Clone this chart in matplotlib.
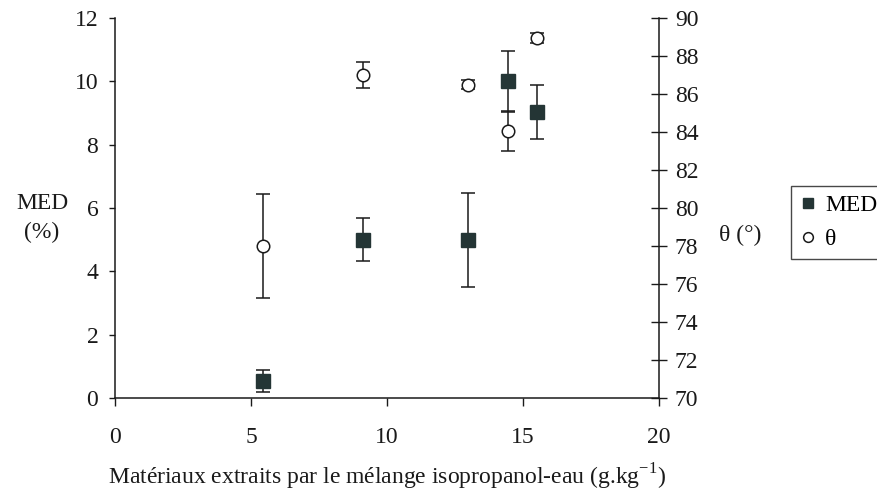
import matplotlib
matplotlib.use("Agg")
import matplotlib.pyplot as plt
from matplotlib.lines import Line2D

plt.rcParams['font.family'] = ['Liberation Serif', 'DejaVu Serif']

# Data
x_vals = [5.44, 9.12, 12.98, 14.45, 15.51]
med_vals = [0.55, 5.0, 5.0, 10.0, 9.03]
med_err = [0.35, 0.68, 1.48, 0.97, 0.84]
theta_vals = [78.0, 87.0, 86.5, 84.05, 88.95]
theta_err = [2.76, 0.7, 0.25, 1.03, 0.25]

x_ticks = [0, 5, 10, 15, 20]
med_ticks = [0, 2, 4, 6, 8, 10, 12]
theta_ticks = list(range(70, 91, 2))

FS = 17
W, H = 878, 496
fig = plt.figure(figsize=(W / 100, H / 100), dpi=100)
ax = fig.add_axes([115 / W, (H - 398) / H, 544 / W, 380 / H])
ax2 = ax.twinx()

ink = '#1a1a1a'
sq_col = '#243535'

ax.errorbar(x_vals, med_vals, yerr=med_err, fmt='s', ms=9.5, mfc=sq_col, mec=sq_col,
            ecolor=ink, elinewidth=1.1, capsize=4.7, capthick=1.1, zorder=3)
ax2.errorbar(x_vals, theta_vals, yerr=theta_err, fmt='o', ms=9, mfc='white', mec=ink,
             mew=1.1, ecolor=ink, elinewidth=1.1, capsize=4.7, capthick=1.1, zorder=3)

ax.set_xlim(0, 20)
ax.set_ylim(0, 12)
ax2.set_ylim(70, 90)
ax.set_xticks(x_ticks)
ax.set_yticks(med_ticks)
ax2.set_yticks(theta_ticks)

for a in (ax, ax2):
    a.spines['top'].set_visible(False)
    for s in a.spines.values():
        s.set_linewidth(1.1)
        s.set_color(ink)
ax2.spines['left'].set_visible(False)
ax2.spines['bottom'].set_visible(False)
ax.spines['right'].set_visible(False)

ax.tick_params(axis='x', direction='out', length=6, width=1, colors=ink, pad=15, labelsize=FS)
ax.tick_params(axis='y', direction='out', length=4, width=1, colors=ink, pad=8, labelsize=FS)
ax2.tick_params(axis='y', direction='inout', length=11, width=1, colors=ink, pad=6, labelsize=FS)

ax.set_xlabel('Matériaux extraits par le mélange isopropanol-eau (g.kg$^{\\mathregular{-1}}$)',
              fontsize=FS, labelpad=10, color=ink)

fig.text(42 / W, 1 - 218 / H, 'MED\n(%)', ha='center', va='center', fontsize=FS,
         color=ink, linespacing=1.45)
fig.text(740 / W, 1 - 235 / H, 'θ (°)', ha='center', va='center', fontsize=FS, color=ink)

handles = [Line2D([], [], ls='none', marker='s', ms=7, mfc=sq_col, mec=sq_col),
           Line2D([], [], ls='none', marker='o', ms=7, mfc='white', mec=ink, mew=1.1)]
leg = fig.legend(handles, ['MED', 'θ'], loc='upper left', bbox_to_anchor=(791 / W, 1 - 186 / H),
                 bbox_transform=fig.transFigure, fontsize=FS, frameon=True, fancybox=False,
                 handlelength=0.7, handletextpad=0.4, borderpad=0.35, labelspacing=0.55,
                 borderaxespad=0)
leg.get_frame().set_edgecolor(ink)
leg.get_frame().set_linewidth(1.0)

fig.savefig('out.png', dpi=100)
